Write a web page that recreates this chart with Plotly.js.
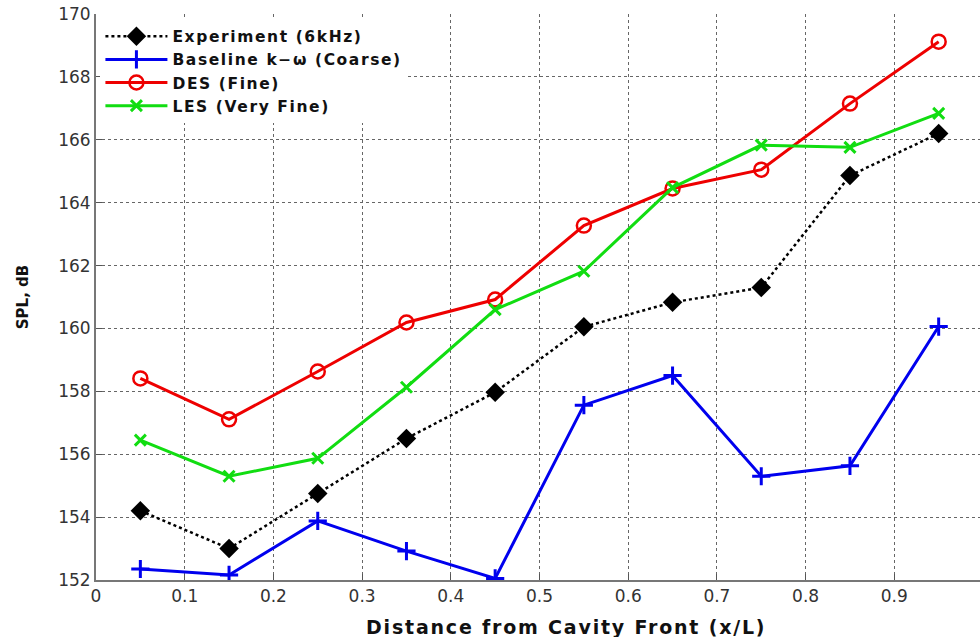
<!DOCTYPE html>
<html>
<head>
<meta charset="utf-8">
<script src="https://cdn.plot.ly/plotly-3.0.1.min.js"></script>
<style>
html,body{margin:0;padding:0;background:#fff;}
#chart{width:980px;height:637px;}
.legendtext{letter-spacing:1.6px;}
.annotation-text{letter-spacing:1.8px;}
</style>
</head>
<body>
<div id="chart"></div>
<script>
const xPos = [0.05, 0.15, 0.25, 0.35, 0.45, 0.55, 0.65, 0.75, 0.85, 0.95];
const experiment = [154.2, 153.0, 154.75, 156.5, 157.97, 160.05, 160.83, 161.3, 164.86, 166.2];
const baseline = [152.35, 152.16, 153.88, 152.92, 152.05, 157.56, 158.5, 155.3, 155.63, 160.06];
const des = [158.41, 157.11, 158.63, 160.19, 160.92, 163.27, 164.45, 165.05, 167.15, 169.12];
const les = [156.45, 155.3, 155.87, 158.13, 160.6, 161.82, 164.48, 165.83, 165.76, 166.84];
const names = ["Experiment (6kHz)", "Baseline k\u2212\u03c9 (Coarse)", "DES (Fine)", "LES (Very Fine)"];
const xTitle = "Distance from Cavity Front (x/L)";
const yTitle = "SPL, dB";
const xTicks = [0, 0.1, 0.2, 0.3, 0.4, 0.5, 0.6, 0.7, 0.8, 0.9, 1];
const yTicks = [152, 154, 156, 158, 160, 162, 164, 166, 168, 170];

const traces = [
  {x: xPos, y: experiment, name: names[0], mode: 'lines+markers',
   line: {color: '#000', width: 2.5, dash: 'dot'},
   marker: {symbol: 'diamond', size: 15, color: '#000'}},
  {x: xPos, y: baseline, name: names[1], mode: 'lines+markers',
   line: {color: '#0000ee', width: 3},
   marker: {symbol: 'cross-thin-open', size: 13, color: '#0000ee', line: {color: '#0000ee', width: 3}}},
  {x: xPos, y: des, name: names[2], mode: 'lines+markers',
   line: {color: '#ee0000', width: 3},
   marker: {symbol: 'circle-open', size: 14, color: '#ee0000', line: {color: '#ee0000', width: 2.5}}},
  {x: xPos, y: les, name: names[3], mode: 'lines+markers',
   line: {color: '#11dd11', width: 3},
   marker: {symbol: 'x-thin-open', size: 11, color: '#11dd11', line: {color: '#11dd11', width: 3}}}
];

const layout = {
  width: 980, height: 637,
  margin: {l: 96, r: 0, t: 14, b: 57},
  paper_bgcolor: '#fff', plot_bgcolor: '#fff',
  font: {family: 'DejaVu Sans, sans-serif', size: 16, color: '#222'},
  showlegend: true,
  legend: {x: 0.005, y: 0.99, xanchor: 'left', yanchor: 'top',
           bgcolor: '#fff', borderwidth: 0, itemwidth: 62,
           font: {family: 'DejaVu Sans, sans-serif', size: 15.5, color: '#111', weight: 'bold'},
           tracegroupgap: 0},
  xaxis: {range: [0, 0.9966], tickvals: xTicks, ticktext: xTicks.map(String),
          showgrid: true, gridcolor: '#666', griddash: 'dot', gridwidth: 1,
          showline: true, linecolor: '#777', linewidth: 2,
          ticks: 'inside', ticklen: 6, tickcolor: '#555', zeroline: false,
          tickfont: {family: 'DejaVu Sans, sans-serif', size: 17, color: '#333'}},
  yaxis: {range: [152, 170], tickvals: yTicks, ticktext: yTicks.map(String),
          showgrid: true, gridcolor: '#666', griddash: 'dot', gridwidth: 1,
          showline: true, linecolor: '#777', linewidth: 2,
          ticks: 'inside', ticklen: 6, tickcolor: '#555', zeroline: false,
          tickfont: {family: 'DejaVu Sans, sans-serif', size: 17, color: '#333'},
          title: {text: yTitle, standoff: 26,
                  font: {family: 'DejaVu Sans, sans-serif', size: 15, color: '#111', weight: 'bold'}}},
  annotations: [{text: xTitle, xref: 'paper', yref: 'paper', x: 0.532, y: -0.083,
                 xanchor: 'center', yanchor: 'middle', showarrow: false,
                 font: {family: 'DejaVu Sans, sans-serif', size: 19, color: '#111', weight: 'bold'}}]
};

Plotly.newPlot('chart', traces, layout, {displayModeBar: false, responsive: false});
</script>
</body>
</html>
